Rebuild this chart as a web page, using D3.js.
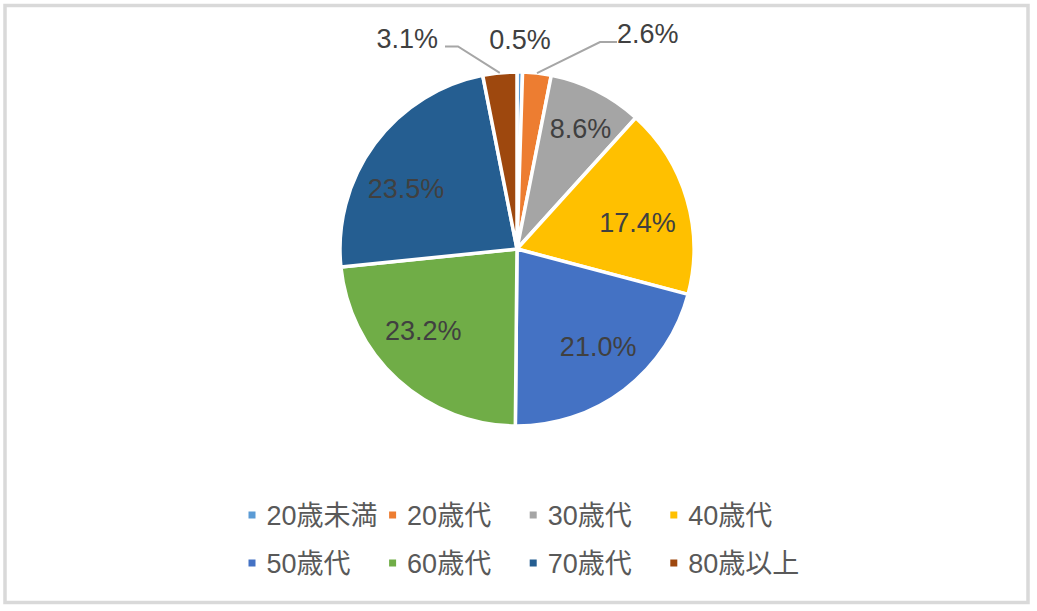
<!DOCTYPE html>
<html>
<head>
<meta charset="utf-8">
<script src="https://cdn.jsdelivr.net/npm/d3@7"></script>
<style>
  html, body { margin: 0; padding: 0; background: #fff; }
  svg { display: block; font-family: "Liberation Sans", Arial, "Noto Sans CJK JP", sans-serif; }
</style>
</head>
<body>
<svg id="chart"></svg>
<script>
"use strict";
// 年代別の割合 (%)
var categories = ["20歳未満", "20歳代", "30歳代", "40歳代", "50歳代", "60歳代", "70歳代", "80歳以上"];
var shares = [0.5, 2.6, 8.6, 17.4, 21.0, 23.2, 23.5, 3.1];
var colors = ["#5B9BD5", "#ED7D31", "#A5A5A5", "#FFC000", "#4472C4", "#70AD47", "#255E91", "#9E480E"];

function chart({
  width = 1037,
  height = 611,
  cx = 517, // 円の中心
  cy = 249,
  radius = 177,
} = {}) {
  var svg = d3.select("#chart").attr("width", width).attr("height", height);

  // 外枠
  svg.append("rect")
    .attr("x", 5).attr("y", 5.5)
    .attr("width", 1023).attr("height", 597)
    .attr("fill", "none")
    .attr("stroke", "#D9D9D9")
    .attr("stroke-width", 3.5);

  var data = categories.map((c, i) => ({ name: c, value: shares[i], color: colors[i] }));

  var pie = d3.pie().sort(null).value((d) => d.value);
  var arcs = pie(data);
  var arc = d3.arc().innerRadius(0).outerRadius(radius);
  var labelArc = d3.arc().innerRadius(radius * 0.71).outerRadius(radius * 0.71);

  var g = svg.append("g").attr("transform", `translate(${cx},${cy})`);

  g.selectAll("path.slice")
    .data(arcs)
    .enter()
    .append("path")
    .attr("class", "slice")
    .attr("d", arc)
    .attr("fill", (d) => d.data.color)
    .attr("stroke", "#fff")
    .attr("stroke-width", 3.5)
    .attr("stroke-linejoin", "round");

  // 内側のラベル (大きいスライス) — Excelの配置に合わせた微調整
  var nudge = {
    "30歳代": [7, -8],
    "40歳代": [0, 9],
    "50歳代": [5, -2],
    "60歳代": [-9, -11],
    "70歳代": [-10, 14],
  };
  var inside = arcs.filter((d) => d.data.value > 5);
  g.selectAll("text.inlabel")
    .data(inside)
    .enter()
    .append("text")
    .attr("class", "inlabel")
    .attr("transform", (d) => {
      var c = labelArc.centroid(d);
      var n = nudge[d.data.name] || [0, 0];
      return `translate(${c[0] + n[0]},${c[1] + n[1]})`;
    })
    .attr("text-anchor", "middle")
    .attr("dy", "0.35em")
    .attr("font-size", 27)
    .attr("fill", "#404040")
    .text((d) => d.data.value.toFixed(1) + "%");

  // 外側のラベル (小さいスライス): 中心からの位置と引き出し線
  var callouts = {
    "20歳未満": { dx: 3, dy: -200, anchor: "middle", line: null },
    "20歳代": { dx: 100, dy: -206, anchor: "start", line: [[83, -207], [100, -207]] },
    "80歳以上": { dx: -79, dy: -201, anchor: "end", line: [[-59, -202.5], [-72, -202.5]] },
  };
  var outside = arcs.filter((d) => d.data.value <= 5);
  var edge = d3.arc().innerRadius(radius).outerRadius(radius);

  g.selectAll("polyline.leader")
    .data(outside.filter((d) => callouts[d.data.name].line))
    .enter()
    .append("polyline")
    .attr("class", "leader")
    .attr("points", (d) => [edge.centroid(d)].concat(callouts[d.data.name].line).map((p) => p.join(",")).join(" "))
    .attr("fill", "none")
    .attr("stroke", "#A6A6A6")
    .attr("stroke-width", 2);

  g.selectAll("text.outlabel")
    .data(outside)
    .enter()
    .append("text")
    .attr("class", "outlabel")
    .attr("x", (d) => callouts[d.data.name].dx)
    .attr("y", (d) => callouts[d.data.name].dy)
    .attr("text-anchor", (d) => callouts[d.data.name].anchor)
    .attr("font-size", 27)
    .attr("fill", "#404040")
    .text((d) => d.data.value.toFixed(1) + "%");

  // 凡例 (4列×2行)
  var legend = svg.selectAll(".legend")
    .data(data)
    .enter()
    .append("g")
    .attr("class", "legend")
    .attr("transform", (d, i) => `translate(${248.5 + (i % 4) * 140.6},${515 + Math.floor(i / 4) * 48})`);
  legend.append("rect")
    .attr("x", 0)
    .attr("y", -3.5)
    .attr("width", 7)
    .attr("height", 7)
    .attr("fill", (d) => d.color);
  legend.append("text")
    .attr("x", 18)
    .attr("dy", "0.36em")
    .attr("font-size", 27)
    .attr("fill", "#595959")
    .text((d) => d.name);

  return svg.node();
}

chart();
</script>
</body>
</html>
